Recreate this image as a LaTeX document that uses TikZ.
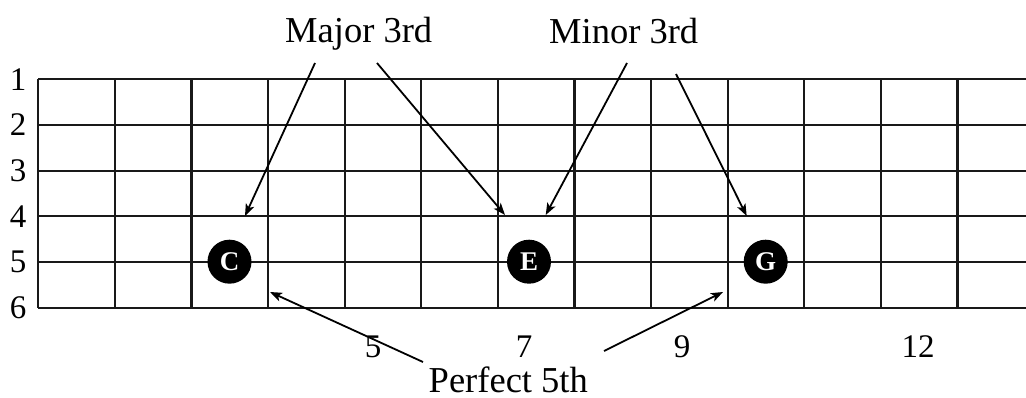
\documentclass[tikz,border=0pt]{standalone}
\usepackage{fontspec}
\setmainfont{Liberation Serif}
\usetikzlibrary{arrows.meta}
\begin{document}
\begin{tikzpicture}[x=1pt,y=-1pt,
  gridline/.style={line width=2.1pt,draw=black!90},
  lbl/.style={font=\fontsize{36.5}{40}\selectfont,inner sep=0pt,anchor=base},
  num/.style={font=\fontsize{33}{38}\selectfont,inner sep=0pt},
  notedot/.style={circle,fill=black,minimum size=44pt,inner sep=0pt,text=white,font=\fontsize{27}{28}\selectfont\bfseries},
  ptr/.style={line width=1.8pt,-{Stealth[length=12pt,width=9pt,inset=3pt]}}]
\useasboundingbox (0,0) rectangle (1026,398);
% strings
\foreach \i in {0,...,5}{
  \draw[gridline] (38.3,79.3+45.68*\i) -- (1026,79.3+45.68*\i);
}
% frets
\foreach \k in {0,...,12}{
  \draw[gridline] (38.3+76.6*\k,79.3) -- (38.3+76.6*\k,307.7);
}
% string numbers
\foreach \i in {1,...,6}{
  \node[num] (s\i) at (18,79.3+45.68*\i-45.68) {\i};
}
% fret numbers
\node[num] (f5) at (373,347) {5};
\node[num] (f7) at (524,347) {7};
\node[num] (f9) at (682,347) {9};
\node[num] (f12) at (918,347) {12};
% notes
\node[notedot] (C) at (229.5,261.7) {C};
\node[notedot] (E) at (529,261.7) {E};
\node[notedot] (G) at (765.7,261.7) {G};
% labels
\node[lbl] (maj) at (358.7,42.7) {Major 3rd};
\node[lbl] (min) at (623.7,43.3) {Minor 3rd};
\node[lbl] (p5) at (508.3,392) {Perfect 5th};
% arrow endpoints
\coordinate (a1s) at (315,63);   \coordinate (a1e) at (245,216);
\coordinate (a2s) at (377,63);   \coordinate (a2e) at (505,215);
\coordinate (a3s) at (627,63);   \coordinate (a3e) at (545.7,215);
\coordinate (a4s) at (676,74);   \coordinate (a4e) at (746.7,216);
\coordinate (a5s) at (423,362);  \coordinate (a5e) at (270,292);
\coordinate (a6s) at (604,351);  \coordinate (a6e) at (723,292);
\draw[ptr] (a1s) -- (a1e);
\draw[ptr] (a2s) -- (a2e);
\draw[ptr] (a3s) -- (a3e);
\draw[ptr] (a4s) -- (a4e);
\draw[ptr] (a5s) -- (a5e);
\draw[ptr] (a6s) -- (a6e);
\end{tikzpicture}
\end{document}
